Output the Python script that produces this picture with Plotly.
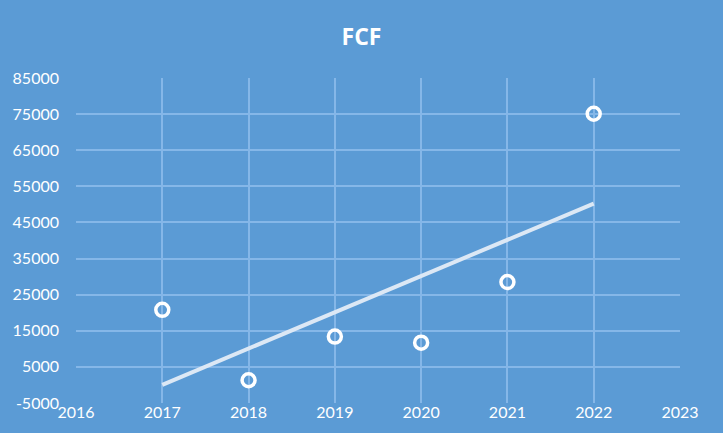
import numpy as np
import plotly.graph_objects as go

years = [2017, 2018, 2019, 2020, 2021, 2022]
fcf = [20800, 1300, 13400, 11700, 28500, 75100]
title_text = "FCF"
y_ticks = [-5000, 5000, 15000, 25000, 35000, 45000, 55000, 65000, 75000, 85000]
y_tick_labels = ["-5000", "5000", "15000", "25000", "35000", "45000", "55000", "65000", "75000", "85000"]
x_ticks = [2016, 2017, 2018, 2019, 2020, 2021, 2022, 2023]

# linear trendline computed from the data
coef = np.polyfit(years, fcf, 1)
trend_x = [years[0], years[-1]]
trend_y = [float(np.polyval(coef, x)) for x in trend_x]

bg = "#5B9BD5"
grid = "#85B7E8"

fig = go.Figure()
fig.add_trace(go.Scatter(x=trend_x, y=trend_y, mode="lines",
                         line=dict(color="#DCE8F5", width=4), hoverinfo="skip"))
fig.add_trace(go.Scatter(x=years, y=fcf, mode="markers",
                         marker=dict(symbol="circle-open", size=13, color="white",
                                     line=dict(width=3.5, color="white"))))

fig.update_layout(
    width=723, height=433,
    paper_bgcolor=bg, plot_bgcolor=bg,
    showlegend=False,
    margin=dict(l=76, r=43, t=78, b=27),
    title=dict(text="<b>" + title_text + "</b>", x=0.5, xanchor="center", y=0.915, yanchor="middle",
               font=dict(family="Open Sans", size=23, color="white")),
    font=dict(family="Lato", size=15, color="white"),
)
fig.update_xaxes(range=[x_ticks[0], x_ticks[-1]], tickvals=x_ticks,
                 ticktext=[str(v) for v in x_ticks], showgrid=True, gridcolor=grid,
                 gridwidth=1.5, zeroline=False, showline=False, ticks="",
                 tickfont=dict(family="Lato", size=16, color="white"), ticklabelstandoff=-2)
fig.update_yaxes(range=[y_ticks[0], y_ticks[-1]], tickvals=y_ticks, ticktext=y_tick_labels,
                 showgrid=True, gridcolor=grid, gridwidth=1.5, zeroline=False, showline=False,
                 tickfont=dict(family="Lato", size=16, color="white"), ticklabelstandoff=16)

fig.write_html("out.html")
